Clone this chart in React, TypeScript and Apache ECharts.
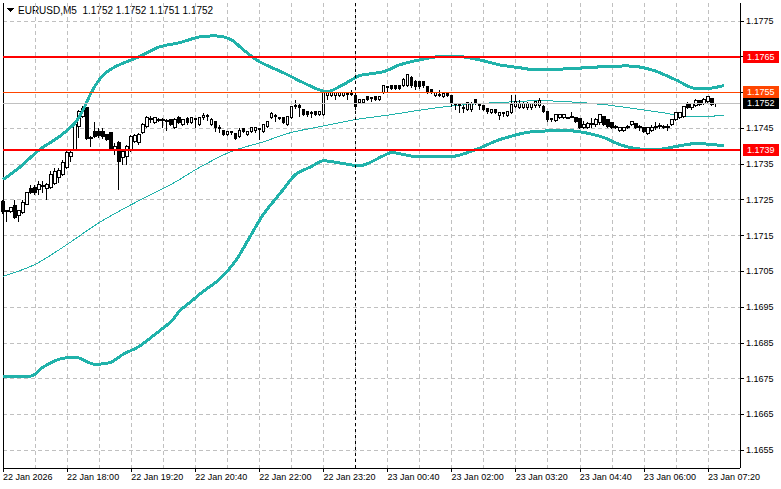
import React, { useEffect, useRef } from "react";
import * as echarts from "echarts";

// ---- candle data (EURUSD M5, bar 0 = 22 Jan 16:40) ----
const opens = [
  1.17245, 1.17217, 1.17217, 1.17234, 1.17206, 1.17214, 1.17236, 1.17281, 1.17284, 1.17278,
  1.1729, 1.17281, 1.17284, 1.17295, 1.17312, 1.1732, 1.17339, 1.1737, 1.17389, 1.17454,
  1.17482, 1.17507, 1.1742, 1.1744, 1.1744, 1.1744, 1.17431, 1.17437, 1.17387, 1.17409,
  1.17367, 1.1737, 1.17389, 1.17412, 1.17409, 1.17437, 1.17454, 1.17476, 1.17465, 1.17473,
  1.17473, 1.17471, 1.17473, 1.17451, 1.17479, 1.17459, 1.17476, 1.17465, 1.17476, 1.17459,
  1.17479, 1.17485, 1.17459, 1.17468, 1.17451, 1.17443, 1.17431, 1.1744, 1.17434, 1.17426,
  1.17448, 1.17431, 1.1744, 1.17443, 1.17448, 1.1744, 1.17454, 1.17479, 1.17485, 1.17479,
  1.17479, 1.17459, 1.17479, 1.1751, 1.17513, 1.17501, 1.17496, 1.1749, 1.17496, 1.17487,
  1.17487, 1.17541, 1.17541, 1.17541, 1.17541, 1.17541, 1.17546, 1.17543, 1.17541, 1.17521,
  1.17521, 1.17538, 1.17535, 1.17538, 1.17529, 1.17549, 1.17566, 1.17569, 1.17569, 1.17569,
  1.17569, 1.17569, 1.17591, 1.1758, 1.1758, 1.1758, 1.17566, 1.17557, 1.17541, 1.17543,
  1.17538, 1.17546, 1.17541, 1.17518, 1.17515, 1.17507, 1.17501, 1.17501, 1.17529, 1.17515,
  1.17513, 1.17504, 1.17493, 1.17501, 1.17485, 1.17493, 1.17485, 1.17493, 1.1751, 1.17507,
  1.17507, 1.17507, 1.17507, 1.17513, 1.17513, 1.1751, 1.17496, 1.17476, 1.17471, 1.17479,
  1.17479, 1.17479, 1.17482, 1.17479, 1.17476, 1.17451, 1.17451, 1.17462, 1.17459, 1.17465,
  1.17482, 1.17473, 1.17465, 1.17454, 1.17443, 1.17443, 1.17454, 1.17459, 1.17462, 1.17454,
  1.17451, 1.17434, 1.17443, 1.17454, 1.17457, 1.17454, 1.17454, 1.17459, 1.17473, 1.17479,
  1.17482, 1.17518, 1.17507, 1.17513, 1.17527, 1.17518, 1.17524, 1.17532, 1.1752,
];
const closes = [
  1.17217, 1.1722, 1.17228, 1.172, 1.1722, 1.17242, 1.1727, 1.1727, 1.1727, 1.17292,
  1.17287, 1.17292, 1.1732, 1.17329, 1.17332, 1.17353, 1.17381, 1.17381, 1.17459, 1.17496,
  1.17504, 1.1742, 1.17423, 1.17426, 1.17429, 1.17426, 1.17417, 1.17389, 1.17398, 1.17356,
  1.17384, 1.17398, 1.17426, 1.17429, 1.17431, 1.17459, 1.17479, 1.17473, 1.17479, 1.17471,
  1.17471, 1.17468, 1.17459, 1.17473, 1.17465, 1.17473, 1.17465, 1.17479, 1.17473, 1.17479,
  1.17485, 1.17482, 1.17473, 1.17451, 1.17448, 1.17431, 1.1744, 1.17437, 1.1742, 1.17443,
  1.1744, 1.1744, 1.17451, 1.17451, 1.17445, 1.17459, 1.17468, 1.1749, 1.17482, 1.17476,
  1.17465, 1.17482, 1.1751, 1.17513, 1.17507, 1.17487, 1.17487, 1.17493, 1.17487, 1.17496,
  1.17552, 1.17549, 1.17549, 1.17549, 1.17549, 1.17549, 1.17543, 1.17546, 1.1751, 1.17529,
  1.17529, 1.17529, 1.17532, 1.17529, 1.17538, 1.17569, 1.17563, 1.1756, 1.1756, 1.1756,
  1.17585, 1.176, 1.17569, 1.17566, 1.17566, 1.17569, 1.17549, 1.17549, 1.17549, 1.17541,
  1.17546, 1.17541, 1.17521, 1.17515, 1.17513, 1.17504, 1.17521, 1.17518, 1.17518, 1.17513,
  1.17501, 1.17496, 1.17501, 1.17493, 1.17493, 1.1749, 1.17496, 1.17515, 1.17524, 1.17518,
  1.17518, 1.17518, 1.17518, 1.17524, 1.17527, 1.17496, 1.17473, 1.17473, 1.17487, 1.17487,
  1.17487, 1.17476, 1.17479, 1.17468, 1.17451, 1.17459, 1.17462, 1.17459, 1.17473, 1.17487,
  1.17459, 1.17454, 1.17451, 1.17451, 1.17451, 1.17451, 1.17451, 1.17468, 1.17451, 1.17451,
  1.1744, 1.17451, 1.17451, 1.17451, 1.17454, 1.17451, 1.17451, 1.17473, 1.17493, 1.17493,
  1.1751, 1.17507, 1.17518, 1.17527, 1.17515, 1.17529, 1.17538, 1.17515, 1.1752,
];
const lows = [
  1.17211, 1.17189, 1.17214, 1.17197, 1.17189, 1.17211, 1.17234, 1.17267, 1.17264, 1.17264,
  1.1727, 1.1725, 1.17281, 1.1729, 1.17298, 1.17315, 1.17336, 1.17356, 1.17387, 1.17423,
  1.17479, 1.17417, 1.17398, 1.17423, 1.17423, 1.1742, 1.17415, 1.17387, 1.17375, 1.17278,
  1.17347, 1.17347, 1.17384, 1.17409, 1.17403, 1.17434, 1.17451, 1.17465, 1.17462, 1.17468,
  1.17451, 1.17443, 1.17457, 1.17448, 1.17462, 1.17457, 1.17459, 1.17462, 1.17451, 1.17457,
  1.17473, 1.17471, 1.17457, 1.1744, 1.17437, 1.17429, 1.17429, 1.17431, 1.17417, 1.17423,
  1.17437, 1.17429, 1.17437, 1.17437, 1.17417, 1.17437, 1.17451, 1.17476, 1.17468, 1.17473,
  1.17462, 1.17457, 1.17476, 1.17504, 1.17482, 1.17485, 1.17482, 1.17479, 1.17485, 1.17485,
  1.17485, 1.17529, 1.17538, 1.17529, 1.17538, 1.17538, 1.17529, 1.17541, 1.17501, 1.17518,
  1.17518, 1.17527, 1.17524, 1.17527, 1.17527, 1.17546, 1.17549, 1.17557, 1.17557, 1.17557,
  1.17566, 1.17566, 1.17563, 1.17557, 1.1756, 1.17563, 1.17546, 1.17546, 1.17538, 1.17538,
  1.17535, 1.17538, 1.1751, 1.17501, 1.17493, 1.17493, 1.17499, 1.17496, 1.17515, 1.17501,
  1.17499, 1.1749, 1.1749, 1.1749, 1.17473, 1.17482, 1.17482, 1.1749, 1.17507, 1.17504,
  1.17504, 1.17501, 1.17501, 1.17507, 1.17507, 1.17493, 1.17468, 1.17468, 1.17468, 1.17476,
  1.17476, 1.17476, 1.17479, 1.17465, 1.17448, 1.17448, 1.17448, 1.17451, 1.17454, 1.17459,
  1.17457, 1.17451, 1.17448, 1.17448, 1.1744, 1.1744, 1.17448, 1.17457, 1.17448, 1.17443,
  1.17437, 1.17431, 1.1744, 1.17445, 1.17448, 1.17448, 1.17443, 1.17457, 1.17471, 1.17476,
  1.17479, 1.17504, 1.17501, 1.1751, 1.17513, 1.17515, 1.17521, 1.17513, 1.1751,
];
const highs = [
  1.1725, 1.17222, 1.17231, 1.1725, 1.17222, 1.1725, 1.17273, 1.1729, 1.1729, 1.17301,
  1.17301, 1.17298, 1.17329, 1.17339, 1.17339, 1.17361, 1.17389, 1.17389, 1.17468, 1.17501,
  1.17513, 1.1751, 1.17429, 1.17468, 1.17451, 1.17451, 1.17434, 1.1744, 1.17409, 1.17415,
  1.17389, 1.17403, 1.17431, 1.17434, 1.17437, 1.17465, 1.17485, 1.17485, 1.17482, 1.17479,
  1.17479, 1.17476, 1.17476, 1.17479, 1.17485, 1.17476, 1.17482, 1.17482, 1.17479, 1.17482,
  1.17493, 1.1749, 1.17479, 1.17471, 1.17459, 1.17445, 1.17443, 1.17443, 1.17437, 1.17451,
  1.17451, 1.17443, 1.17454, 1.17454, 1.17451, 1.17462, 1.17471, 1.17496, 1.1749, 1.17482,
  1.17482, 1.17485, 1.17513, 1.17529, 1.17521, 1.17504, 1.17499, 1.17499, 1.17499, 1.17499,
  1.17555, 1.17552, 1.17552, 1.17552, 1.17552, 1.17552, 1.17549, 1.17557, 1.17546, 1.17532,
  1.17532, 1.17541, 1.17538, 1.17541, 1.17541, 1.17571, 1.17569, 1.17571, 1.17571, 1.17571,
  1.17591, 1.17602, 1.17597, 1.17585, 1.17583, 1.17583, 1.17569, 1.1756, 1.17552, 1.17557,
  1.17549, 1.17552, 1.17543, 1.17521, 1.17518, 1.17515, 1.17524, 1.17524, 1.17532, 1.17518,
  1.17515, 1.17507, 1.17504, 1.17504, 1.17496, 1.17496, 1.17499, 1.17543, 1.17543, 1.17529,
  1.17524, 1.17524, 1.17521, 1.17527, 1.17535, 1.17515, 1.17499, 1.17479, 1.1749, 1.1749,
  1.1749, 1.17482, 1.17496, 1.17482, 1.17479, 1.17471, 1.17468, 1.17479, 1.17479, 1.1749,
  1.17485, 1.17476, 1.17468, 1.17459, 1.17454, 1.17454, 1.17459, 1.17471, 1.17465, 1.17459,
  1.17454, 1.17454, 1.17459, 1.17468, 1.17465, 1.17459, 1.17462, 1.17476, 1.17496, 1.17496,
  1.17513, 1.17524, 1.17521, 1.17532, 1.17529, 1.17535, 1.17541, 1.17535, 1.1752,
];

// ---- Bollinger bands: [bar index, price] ----
const bbUpper = [
  [0, 1.17306], [4, 1.17339], [9, 1.17389], [14, 1.17426], [18, 1.17465], [20, 1.17501],
  [22, 1.17549], [24, 1.17585], [26, 1.17608], [29, 1.17627], [34, 1.1765], [39, 1.17677],
  [44, 1.17689], [49, 1.17705], [53, 1.17708], [57, 1.17697], [60, 1.17669], [64, 1.17636],
  [70, 1.17605], [75, 1.17577], [79, 1.17557], [81, 1.17552], [84, 1.17566], [87, 1.17585],
  [89, 1.17597], [95, 1.17608], [99, 1.17627], [104, 1.17641], [109, 1.1765], [114, 1.1765],
  [119, 1.17641], [124, 1.17627], [129, 1.17619], [133, 1.17613], [141, 1.17616], [150, 1.17622],
  [156, 1.17624], [162, 1.17613], [168, 1.17585], [172, 1.17563], [175, 1.1756], [180, 1.17569],
];
const bbMiddle = [
  [0, 1.17036], [8, 1.17069], [16, 1.17125], [24, 1.17186], [33, 1.17242], [41, 1.17287],
  [44, 1.17306], [49, 1.1734], [57, 1.17385], [65, 1.17412], [72, 1.17438], [79, 1.17454],
  [88, 1.17474], [97, 1.17488], [105, 1.17502], [113, 1.17513], [122, 1.17521], [128, 1.17524],
  [133, 1.17527], [141, 1.17524], [150, 1.17516], [158, 1.17504], [166, 1.17491], [170, 1.17482],
  [180, 1.17485],
];
const bbLower = [
  [0, 1.16757], [7, 1.16757], [10, 1.16782], [14, 1.16804], [18, 1.1681], [23, 1.1679],
  [27, 1.16796], [30, 1.16818], [34, 1.1684], [38, 1.16874], [42, 1.1691], [44, 1.16938],
  [47, 1.16966], [50, 1.16994], [54, 1.17027], [58, 1.17078], [62, 1.17153], [65, 1.17209],
  [70, 1.17279], [73, 1.1732], [77, 1.17343], [80, 1.17359], [85, 1.17351], [89, 1.17345],
  [95, 1.17373], [97, 1.17382], [103, 1.17371], [112, 1.17371], [118, 1.1739], [124, 1.17418],
  [132, 1.1744], [141, 1.17443], [145, 1.17438], [150, 1.17424], [154, 1.17404], [158, 1.17393],
  [163, 1.1739], [168, 1.17399], [173, 1.17407], [180, 1.17401],
];

// ---- levels, ticks, labels ----
const redLevels = [1.1765, 1.1739];
const askPrice = 1.1755;
const bidPrice = 1.1752;
const daySeparatorIndex = 88;
const xTickLabels = [
  "22 Jan 2026", "22 Jan 18:00", "22 Jan 19:20", "22 Jan 20:40", "22 Jan 22:00", "22 Jan 23:20",
  "23 Jan 00:40", "23 Jan 02:00", "23 Jan 03:20", "23 Jan 04:40", "23 Jan 06:00", "23 Jan 07:20",
];
const yTickValues = [
  1.1655, 1.1665, 1.1675, 1.1685, 1.1695, 1.1705, 1.1715, 1.1725, 1.1735, 1.1745, 1.1755, 1.1765, 1.1775,
];
const titleText = "EURUSD,M5  1.1752 1.1752 1.1751 1.1752";
const slotCount = 185;
const yMin = 1.165;
const yMax = 1.178;

export default function App() {
  const ref = useRef<HTMLDivElement>(null);
  useEffect(() => {
    if (!ref.current) return;
    const chart = echarts.init(ref.current, null, { renderer: "svg" });
    const font = "Liberation Sans";
    const cats = Array.from({ length: slotCount }, (_, i) => String(i));
    const candles = opens.map((o, i) => [o, closes[i], lows[i], highs[i]]);
    const priceLabel = (bg: string) => ({
      show: true,
      position: "end",
      distance: 3,
      formatter: (p: any) => Number(p.value).toFixed(4),
      color: "#fff",
      backgroundColor: bg,
      padding: [2, 4, 1, 4],
      fontSize: 9,
      lineHeight: 9,
      fontFamily: font,
    });
    const grid = "#c0c0c0";
    const band = "#20b2aa";
    chart.setOption({
      animation: false,
      backgroundColor: "#ffffff",
      grid: { left: 3, right: 41, top: 3, bottom: 21, containLabel: false },
      xAxis: {
        type: "category",
        data: cats,
        boundaryGap: false,
        axisLine: { onZero: false, lineStyle: { color: "#000", width: 1 } },
        axisTick: { show: true, interval: 15, length: 4, lineStyle: { color: "#000" } },
        axisLabel: {
          interval: 15,
          align: "left",
          margin: 4,
          color: "#000",
          fontSize: 9,
          fontFamily: font,
          formatter: (_v: string, i: number) => xTickLabels[i / 16] ?? "",
        },
        splitLine: { show: true, interval: 7, lineStyle: { color: grid, type: [4, 3], width: 1 } },
      },
      yAxis: [
        {
          type: "value",
          position: "right",
          min: yMin,
          max: yMax,
          axisLine: { show: true, lineStyle: { color: "#000" } },
          axisTick: { show: true, length: 4, customValues: yTickValues, lineStyle: { color: "#000" } },
          axisLabel: {
            customValues: yTickValues,
            margin: 6,
            color: "#000",
            fontSize: 9,
            fontFamily: font,
            formatter: (v: number) => v.toFixed(4),
          },
          splitLine: { show: true, lineStyle: { color: grid, type: [4, 3], width: 1 } },
        },
        {
          type: "value",
          position: "left",
          min: yMin,
          max: yMax,
          axisLine: { show: true, lineStyle: { color: "#000" } },
          axisTick: { show: false },
          axisLabel: { show: false },
          splitLine: { show: false },
        },
      ],
      graphic: [
        { type: "polygon", shape: { points: [[7, 8], [14, 8], [10.5, 12]] }, style: { fill: "#000" } },
        {
          type: "text",
          left: 18,
          top: 5,
          style: { text: titleText, fontSize: 10, fontFamily: font, fill: "#000" },
        },
      ],
      series: [
        {
          type: "line",
          data: bbMiddle,
          showSymbol: false,
          smooth: 0.3,
          z: 2,
          lineStyle: { color: band, width: 1 },
          markLine: {
            silent: true,
            precision: 5,
            symbol: ["none", "none"],
            data: [
              { yAxis: bidPrice, lineStyle: { color: "#c0c0c0", width: 1, type: "solid" }, label: priceLabel("#000000") },
              { yAxis: askPrice, lineStyle: { color: "#ff4500", width: 1, type: "solid" }, label: priceLabel("#ff4500") },
              { xAxis: daySeparatorIndex, lineStyle: { color: "#000", width: 1, type: [3, 3] }, label: { show: false } },
            ],
          },
        },
        {
          type: "candlestick",
          data: candles,
          barWidth: 3,
          z: 3,
          itemStyle: {
            color: "#ffffff",
            color0: "#000000",
            borderColor: "#000000",
            borderColor0: "#000000",
            borderColorDoji: "#000000",
            borderWidth: 1,
          },
        },
        {
          type: "line",
          data: bbUpper,
          showSymbol: false,
          smooth: 0.3,
          z: 4,
          lineStyle: { color: band, width: 3 },
          markLine: {
            silent: true,
            precision: 5,
            symbol: ["none", "none"],
            data: redLevels.map((v) => ({
              yAxis: v,
              lineStyle: { color: "#ff0000", width: 2, type: "solid" },
              label: priceLabel("#ff0000"),
            })),
          },
        },
        {
          type: "line",
          data: bbLower,
          showSymbol: false,
          smooth: 0.3,
          z: 4,
          lineStyle: { color: band, width: 3 },
        },
      ],
    });
    return () => chart.dispose();
  }, []);
  return (
    <>
      <style>{`.mt-chart svg path { shape-rendering: crispEdges; }`}</style>
      <div
        ref={ref}
        className="mt-chart"
        style={{ position: "absolute", left: 0, top: 0, width: 781, height: 489, background: "#fff" }}
      />
    </>
  );
}
